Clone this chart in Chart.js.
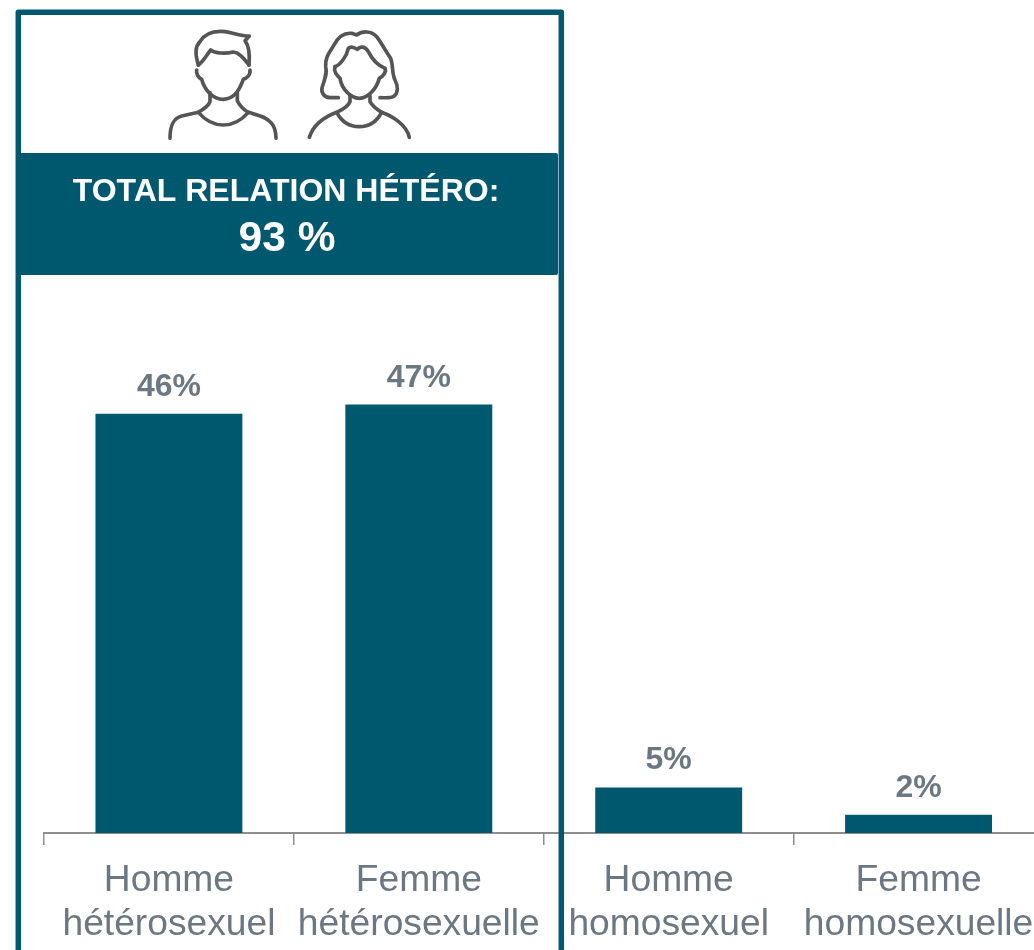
<!DOCTYPE html>
<html lang="fr">
<head>
<meta charset="utf-8">
<title>Relations</title>
<script src="https://cdn.jsdelivr.net/npm/chart.js@4"></script>
<style>
html,body{margin:0;padding:0;background:#fff;overflow:hidden;width:1034px;height:950px}
#wrap{width:1034px;height:950px;overflow:hidden}
canvas{display:block}
</style>
</head>
<body>
<div id="wrap"><canvas id="c" width="1100" height="950"></canvas></div>
<script>
const categories = [["Homme","hétérosexuel"],["Femme","hétérosexuelle"],["Homme","homosexuel"],["Femme","homosexuelle"]];
const values = [46,47,5,2];
const bannerTitle = "TOTAL RELATION HÉTÉRO:";
const bannerValue = "93 %";

const TEAL = "#00586f", GREY = "#6b7782", AXIS = "#8e8e8e", ICON = "#555555";
const FONT = '"Liberation Sans", Arial, sans-serif';

const iconPaths = [
 "M145,165 C135,130 135,110 150,95 C165,70 195,62 225,65 C250,68 270,78 298,78 L285,92 C295,105 300,130 297,165",
 "M145,165 C160,155 170,135 182,120 C195,130 225,132 250,126 C270,128 285,150 297,165",
 "M140,180 C138,195 150,205 155,208 C162,235 185,268 220,268 C255,268 270,235 280,208 C290,205 302,195 300,180",
 "M180,248 L180,275 C175,290 160,298 145,307",
 "M262,250 L262,272 C268,285 280,298 295,307",
 "M60,385 C60,345 70,325 95,318 L145,307 C165,330 190,345 220,345 C250,345 275,330 295,307 C320,315 350,320 365,340 C375,352 378,370 378,385",
 "M565,263 L540,263 C520,262 512,245 517,230 C525,205 532,190 527,170 C525,140 540,125 552,105 C565,80 585,68 605,70 L620,75 C635,62 665,62 680,80 C695,100 705,120 722,145 C730,165 725,190 735,210 C745,230 745,250 730,260 C720,265 705,263 690,263",
 "M555,170 C570,165 590,140 595,115 C605,105 615,115 622,118 C630,108 645,108 655,125 C665,145 680,165 705,175",
 "M555,170 C550,185 560,195 570,205 C575,235 600,265 628,265 C655,265 680,235 688,205 C700,198 710,185 705,175",
 "M600,255 L600,275 C595,290 580,298 560,307",
 "M660,258 L660,275 C668,290 680,298 695,307",
 "M478,382 C490,345 520,322 560,307 C575,335 600,350 628,350 C655,350 680,335 695,307 C730,320 770,345 778,382"
];

const valueLabels = {
  id:"valueLabels",
  afterDatasetsDraw(chart){
    const {ctx} = chart, meta = chart.getDatasetMeta(0);
    ctx.save();
    ctx.font = "bold 32px " + FONT;
    ctx.fillStyle = GREY;
    ctx.textAlign = "center";
    ctx.textBaseline = "alphabetic";
    meta.data.forEach((bar,i)=>ctx.fillText(values[i]+"%", bar.x, bar.y - 18));
    ctx.restore();
  }
};

const decoration = {
  id:"decoration",
  afterDraw(chart){
    const {ctx} = chart;
    ctx.save();
    ctx.save();
    ctx.translate(150,10);
    ctx.scale(1/3,1/3);
    ctx.strokeStyle = ICON;
    ctx.lineWidth = 11;
    ctx.lineCap = "round";
    ctx.lineJoin = "round";
    iconPaths.forEach(p=>ctx.stroke(new Path2D(p)));
    ctx.restore();
    ctx.strokeStyle = TEAL;
    ctx.lineWidth = 5.5;
    ctx.lineJoin = "round";
    ctx.beginPath();
    ctx.moveTo(18.3,960);
    ctx.lineTo(18.3,12.3);
    ctx.lineTo(561.3,12.3);
    ctx.lineTo(561.3,960);
    ctx.stroke();
    ctx.fillStyle = TEAL;
    ctx.beginPath();
    ctx.roundRect(16,153,542,122,2);
    ctx.fill();
    ctx.fillStyle = "#ffffff";
    ctx.textAlign = "center";
    ctx.textBaseline = "alphabetic";
    ctx.font = "bold 32px " + FONT;
    ctx.fillText(bannerTitle,286,201);
    ctx.font = "bold 42.5px " + FONT;
    ctx.fillText(bannerValue,287,251);
    ctx.restore();
  }
};

new Chart(document.getElementById("c"),{
  type:"bar",
  data:{labels:categories,datasets:[{data:values,backgroundColor:TEAL,barPercentage:1,categoryPercentage:0.588}]},
  plugins:[valueLabels,decoration],
  options:{
    responsive:false,
    animation:false,
    layout:{padding:{left:44,right:56.5,top:286,bottom:0}},
    plugins:{legend:{display:false},tooltip:{enabled:false},title:{display:false}},
    scales:{
      y:{display:false,min:0,max:60},
      x:{
        afterFit(s){s.height=117;},
        border:{color:AXIS,width:2},
        grid:{drawOnChartArea:false,color:AXIS,tickLength:12,lineWidth:1.5,tickWidth:1.5},
        ticks:{color:GREY,font:{family:FONT,size:37.2,lineHeight:1.17},padding:14,autoSkip:false,maxRotation:0,minRotation:0}
      }
    }
  }
});
</script>
</body>
</html>
